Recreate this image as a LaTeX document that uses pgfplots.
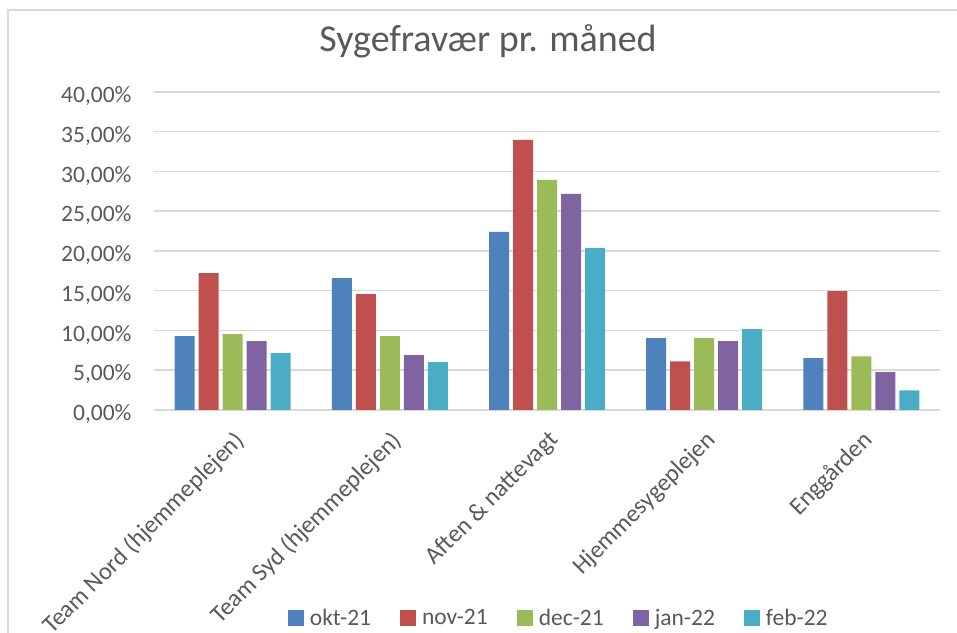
\documentclass[border=0pt]{standalone}
\usepackage{pgfplots}
\pgfplotsset{compat=1.18}
\usepackage{fontspec}
\setmainfont{Carlito}
\definecolor{c1}{HTML}{4F81BD}
\definecolor{c2}{HTML}{C0504D}
\definecolor{c3}{HTML}{9BBB59}
\definecolor{c4}{HTML}{8064A2}
\definecolor{c5}{HTML}{4BACC6}
\definecolor{txt}{HTML}{595959}
\definecolor{gridc}{HTML}{D9D9D9}
\begin{document}
\begin{tikzpicture}[x=1bp,y=1bp]
\path[use as bounding box] (0,0) rectangle (957,633);
\begin{scope}
\clip (0,0) rectangle (957,633);
\draw[gridc, line width=1.5bp] (8,0) -- (8,623) -- (957,623);
\begin{axis}[
  at={(154bp,223bp)}, anchor=south west,
  scale only axis, width=786bp, height=318bp,
  ymin=0, ymax=40, xmin=-0.5, xmax=4.5,
  ybar=4bp, bar width=20bp,
  axis line style={draw=none},
  major tick length=0pt,
  ymajorgrids,
  major grid style={gridc, line width=1.5bp},
  ytick={0,5,...,40},
  /pgf/number format/assume math mode=true,
  yticklabel={\pgfmathprintnumber[fixed,fixed zerofill,precision=2,use comma]{\tick}\%},
  yticklabel style={font=\fontsize{23.5bp}{28bp}\selectfont, text=txt, xshift=-19bp, yshift=-4bp},
  xtick={0,1,2,3,4},
  xticklabels={Team Nord (hjemmeplejen),Team Syd (hjemmeplejen),Aften \& nattevagt,Hjemmesygeplejen,Enggården},
  xticklabel style={font=\fontsize{24.5bp}{29bp}\selectfont, text=txt, xshift=0bp, yshift=-19bp, rotate=45, anchor=north east, inner sep=0pt},
  title={Sygefravær pr. måned},
  title style={at={(axis description cs:0.425,1.1415)}, anchor=center, font=\fontsize{38bp}{44bp}\selectfont, text=txt},
  legend style={at={(axis description cs:0.515,-0.654)}, anchor=center, draw=none, fill=none,
    legend columns=5, font=\fontsize{23.5bp}{28bp}\selectfont, text=txt,
    /tikz/every odd column/.append style={column sep=4bp},
    /tikz/every even column/.append style={column sep=27bp}},
  legend image code/.code={\fill[#1] (0bp,-8bp) rectangle (16bp,8bp);},
]
\addplot[fill=c1, draw=none] coordinates {(0,9.29) (1,16.6) (2,22.4) (3,9.03) (4,6.51)};
\addplot[fill=c2, draw=none] coordinates {(0,17.23) (1,14.58) (2,33.99) (3,6.13) (4,14.96)};
\addplot[fill=c3, draw=none] coordinates {(0,9.54) (1,9.29) (2,28.95) (3,9.03) (4,6.76)};
\addplot[fill=c4, draw=none] coordinates {(0,8.66) (1,6.89) (2,27.18) (3,8.66) (4,4.75)};
\addplot[fill=c5, draw=none] coordinates {(0,7.14) (1,6.01) (2,20.38) (3,10.17) (4,2.48)};
\legend{okt-21,nov-21,dec-21,jan-22,feb-22}
\end{axis}
\end{scope}
\end{tikzpicture}
\end{document}
